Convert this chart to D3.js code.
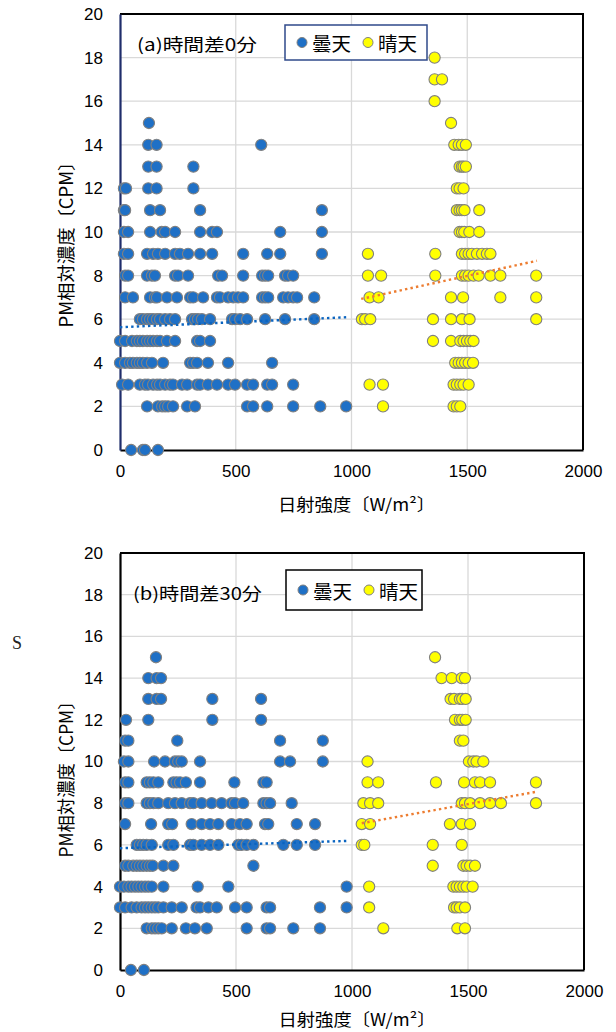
<!DOCTYPE html>
<html><head><meta charset="utf-8">
<script src="https://cdn.jsdelivr.net/npm/d3@7"></script>
<style>
html,body{margin:0;padding:0;background:#fff;}
svg{display:block;}
</style>
</head><body>
<svg id="chart" width="616" height="1032"></svg>
<script>
// ---------- DATA ----------
const X_TICKS = [0, 500, 1000, 1500, 2000];
const Y_TICKS = [0, 2, 4, 6, 8, 10, 12, 14, 16, 18, 20];
const SERIES_NAMES = ["曇天", "晴天"];
const TITLES = ["(a)時間差0分", "(b)時間差30分"];
const X_TITLE = "日射強度〔W/m²〕";
const Y_TITLE = "PM相対濃度〔CPM〕";

// each row: [PM value, [solar radiation values...]]
const aCloudy = [
  [15, [125]],
  [14, [122, 158, 610]],
  [13, [122, 158, 317]],
  [12, [17, 26, 122, 158, 317]],
  [11, [17, 22, 130, 173, 346, 872]],
  [10, [17, 35, 130, 180, 195, 238, 346, 398, 419, 692, 872]],
  [9,  [17, 35, 117, 143, 164, 195, 238, 259, 294, 346, 398, 532, 636, 692, 872]],
  [8,  [22, 35, 117, 138, 151, 238, 251, 294, 424, 441, 532, 614, 627, 640, 713, 726, 748]],
  [7,  [22, 56, 130, 151, 160, 203, 246, 303, 316, 359, 419, 432, 467, 489, 510, 532, 614, 627, 640, 705, 726, 748, 765, 839]],
  [6,  [86, 99, 117, 130, 143, 160, 173, 195, 216, 238, 311, 324, 337, 354, 389, 484, 497, 519, 549, 627, 713, 839]],
  [5,  [0, 22, 52, 73, 86, 99, 117, 130, 143, 160, 173, 203, 238, 333, 346, 389]],
  [4,  [0, 22, 43, 56, 73, 86, 99, 117, 138, 186, 303, 316, 333, 380, 467, 657]],
  [3,  [9, 35, 86, 108, 121, 143, 160, 173, 195, 216, 229, 268, 290, 333, 346, 380, 419, 467, 497, 549, 575, 636, 657, 748]],
  [2,  [117, 164, 182, 195, 208, 229, 290, 324, 549, 575, 636, 748, 865, 977]],
  [0,  [48, 99, 108, 164]]
];
const aSunny = [
  [18, [1359]],
  [17, [1359, 1391]],
  [16, [1359]],
  [15, [1430]],
  [14, [1444, 1463, 1477, 1494]],
  [13, [1467, 1477, 1484, 1494]],
  [12, [1455, 1467, 1484]],
  [11, [1455, 1467, 1477, 1488, 1552]],
  [10, [1467, 1477, 1487, 1509, 1552]],
  [9,  [1071, 1362, 1477, 1491, 1506, 1520, 1542, 1564, 1585, 1600]],
  [8,  [1071, 1128, 1362, 1477, 1491, 1506, 1527, 1549, 1600, 1643, 1798]],
  [7,  [1078, 1117, 1430, 1482, 1643, 1798]],
  [6,  [1045, 1059, 1081, 1352, 1430, 1477, 1510, 1798]],
  [5,  [1352, 1430, 1470, 1484, 1499, 1513, 1527]],
  [4,  [1448, 1463, 1477, 1491, 1506, 1525]],
  [3,  [1078, 1136, 1441, 1455, 1470, 1484, 1506]],
  [2,  [1136, 1441, 1455, 1470]]
];
const bCloudy = [
  [15, [155]],
  [14, [122, 158, 177]],
  [13, [122, 158, 177, 398, 608]],
  [12, [26, 122, 398, 608]],
  [11, [22, 36, 247, 690, 874]],
  [10, [17, 36, 147, 194, 237, 251, 266, 345, 690, 733, 874]],
  [9,  [22, 36, 115, 129, 144, 165, 230, 244, 259, 284, 345, 493, 618, 632]],
  [8,  [22, 36, 115, 129, 144, 165, 208, 237, 266, 302, 316, 352, 395, 438, 481, 496, 531, 618, 632, 647, 740]],
  [7,  [22, 134, 208, 225, 309, 352, 388, 424, 481, 517, 546, 625, 639, 762, 841]],
  [6,  [72, 86, 100, 115, 137, 208, 230, 302, 316, 352, 388, 424, 510, 524, 546, 575, 704, 762, 841]],
  [5,  [22, 36, 57, 72, 86, 100, 115, 129, 141, 187, 230, 575]],
  [4,  [0, 17, 36, 50, 65, 79, 93, 108, 122, 137, 187, 335, 467, 977]],
  [3,  [0, 22, 50, 72, 93, 108, 122, 137, 151, 165, 187, 223, 266, 330, 345, 381, 417, 496, 546, 632, 647, 862, 977]],
  [2,  [115, 137, 151, 165, 180, 223, 284, 323, 374, 546, 632, 647, 747, 862]],
  [0,  [47, 103]]
];
const bSunny = [
  [15, [1358]],
  [14, [1386, 1430, 1473, 1487]],
  [13, [1425, 1440, 1465, 1475, 1490]],
  [12, [1444, 1465, 1475, 1490]],
  [11, [1465, 1480]],
  [10, [1067, 1504, 1523, 1537, 1566]],
  [9,  [1067, 1113, 1362, 1483, 1530, 1552, 1595, 1793]],
  [8,  [1049, 1078, 1113, 1473, 1487, 1509, 1552, 1595, 1642, 1793]],
  [7,  [1042, 1078, 1422, 1473, 1509]],
  [6,  [1042, 1053, 1348, 1473]],
  [5,  [1348, 1480, 1494, 1509, 1530]],
  [4,  [1074, 1437, 1451, 1465, 1480, 1494, 1520]],
  [3,  [1074, 1440, 1451, 1465, 1487]],
  [2,  [1135, 1454, 1487]]
];
// linear trend lines (endpoints)
const aCloudyTrend = [[0, 5.63], [977, 6.09]];
const aSunnyTrend  = [[1042, 6.93], [1801, 8.68]];
const bCloudyTrend = [[0, 5.84], [977, 6.19]];
const bSunnyTrend  = [[1042, 7.04], [1796, 8.55]];

// ---------- DRAW ----------
const svg = d3.select("#chart");
const NUM_FONT = "'Liberation Sans', Arial, sans-serif";
const JP_FONT = "'Noto Sans CJK JP', sans-serif";

function flatten(rows) {
  const pts = [];
  rows.forEach(([y, xs]) => xs.forEach(x => pts.push({x, y})));
  return pts;
}

function drawChart(cfg) {
  const x = d3.scaleLinear().domain([0, 2000]).range([cfg.left, cfg.right]);
  const y = d3.scaleLinear().domain([0, 20]).range([cfg.bottom, cfg.top]);
  const g = svg.append("g");

  // gridlines
  g.append("g").selectAll("line.h").data(Y_TICKS.filter(d => d > 0)).join("line")
    .attr("x1", cfg.left).attr("x2", cfg.right)
    .attr("y1", d => y(d)).attr("y2", d => y(d))
    .attr("stroke", "#d9d9d9").attr("stroke-width", 1.3);
  g.append("g").selectAll("line.v").data(X_TICKS.filter(d => d > 0 && d < 2000)).join("line")
    .attr("y1", cfg.top).attr("y2", cfg.bottom)
    .attr("x1", d => x(d)).attr("x2", d => x(d))
    .attr("stroke", "#d9d9d9").attr("stroke-width", 1.3);

  // frame top / right
  g.append("path")
    .attr("d", `M${cfg.left},${cfg.top}H${cfg.right}V${cfg.bottom}`)
    .attr("fill", "none").attr("stroke", "#000").attr("stroke-width", 2);

  // axes
  const xAxis = g.append("g").attr("transform", `translate(0,${cfg.bottom})`)
    .call(d3.axisBottom(x).tickValues(X_TICKS).tickSize(0).tickPadding(cfg.xPad).tickFormat(d3.format("d")));
  xAxis.select(".domain").attr("stroke", "#000").attr("stroke-width", 2.2);
  xAxis.selectAll("text").attr("font-family", NUM_FONT).attr("font-size", 17).attr("fill", "#000");

  const yAxis = g.append("g").attr("transform", `translate(${cfg.left},0)`)
    .call(d3.axisLeft(y).tickValues(Y_TICKS).tickSize(0).tickPadding(17).tickFormat(d3.format("d")));
  yAxis.select(".domain").attr("stroke", cfg.yAxisColor).attr("stroke-width", 2.2);
  yAxis.selectAll("text").attr("font-family", NUM_FONT).attr("font-size", 17).attr("fill", "#000");

  // points
  const series = [
    {rows: cfg.cloudy, fill: "#1f70c6"},
    {rows: cfg.sunny, fill: "#ffff00"}
  ];
  series.forEach(s => {
    g.append("g").selectAll("circle").data(flatten(s.rows)).join("circle")
      .attr("cx", d => x(d.x)).attr("cy", d => y(d.y)).attr("r", 5.6)
      .attr("fill", s.fill).attr("stroke", "#808080").attr("stroke-width", 1.1);
  });

  // trend lines
  const line = d3.line().x(d => x(d[0])).y(d => y(d[1]));
  g.append("path").attr("d", line(cfg.cloudyTrend)).attr("fill", "none")
    .attr("stroke", "#0a64c0").attr("stroke-width", 2.4).attr("stroke-dasharray", "2.4 3.2");
  g.append("path").attr("d", line(cfg.sunnyTrend)).attr("fill", "none")
    .attr("stroke", "#ed7d31").attr("stroke-width", 2.4).attr("stroke-dasharray", "2.4 3.2");

  // title inside plot
  g.append("text").attr("x", cfg.titleX).attr("y", cfg.titleY)
    .attr("font-family", JP_FONT).attr("font-size", 17).attr("fill", "#000")
    .attr("dominant-baseline", "central")
    .attr("textLength", cfg.titleLen).attr("lengthAdjust", "spacingAndGlyphs")
    .text(cfg.title);

  // legend
  const L = cfg.legend;
  g.append("rect").attr("x", L.x).attr("y", L.y).attr("width", L.w).attr("height", L.h)
    .attr("fill", "#fff").attr("stroke", L.stroke).attr("stroke-width", 1.5);
  const ly = L.y + L.h / 2;
  [{fill: "#1f70c6", cx: L.x + 17, tx: L.x + 27}, {fill: "#ffff00", cx: L.x + 83, tx: L.x + 93}]
    .forEach((it, i) => {
      g.append("circle").attr("cx", it.cx).attr("cy", ly).attr("r", 5)
        .attr("fill", it.fill).attr("stroke", "#808080").attr("stroke-width", 1);
      g.append("text").attr("x", it.tx).attr("y", ly)
        .attr("font-family", JP_FONT).attr("font-size", 19).attr("fill", "#000")
        .attr("dominant-baseline", "central")
        .attr("textLength", 39).attr("lengthAdjust", "spacingAndGlyphs")
        .text(SERIES_NAMES[i]);
    });

  // axis titles
  g.append("text").attr("x", (cfg.left + cfg.right) / 2 + 5).attr("y", cfg.xTitleY)
    .attr("text-anchor", "middle").attr("dominant-baseline", "central")
    .attr("font-family", JP_FONT).attr("font-size", 17).attr("fill", "#000")
    .attr("textLength", 157).attr("lengthAdjust", "spacingAndGlyphs")
    .text(X_TITLE);
  g.append("text")
    .attr("transform", `translate(65,${cfg.yTitleY}) rotate(-90)`)
    .attr("text-anchor", "middle").attr("dominant-baseline", "central")
    .attr("font-family", JP_FONT).attr("font-size", 18).attr("fill", "#000")
    .attr("textLength", cfg.yTitleLen).attr("lengthAdjust", "spacingAndGlyphs")
    .text(Y_TITLE);
}

drawChart({
  left: 120, right: 583, top: 14, bottom: 450, xPad: 15,
  yAxisColor: "#1f2d6b",
  cloudy: aCloudy, sunny: aSunny, cloudyTrend: aCloudyTrend, sunnyTrend: aSunnyTrend,
  title: TITLES[0], titleX: 137, titleY: 43, titleLen: 120,
  legend: {x: 285, y: 25, w: 142, h: 35, stroke: "#2f4a8a"},
  xTitleY: 503, yTitleY: 240, yTitleLen: 175
});
drawChart({
  left: 120, right: 584, top: 553, bottom: 970, xPad: 15,
  yAxisColor: "#000",
  cloudy: bCloudy, sunny: bSunny, cloudyTrend: bCloudyTrend, sunnyTrend: bSunnyTrend,
  title: TITLES[1], titleX: 133, titleY: 592, titleLen: 129,
  legend: {x: 286, y: 570, w: 136, h: 40, stroke: "#000"},
  xTitleY: 1018, yTitleY: 775, yTitleLen: 165
});

// stray character in the source figure
svg.append("text").attr("x", 12).attr("y", 649)
  .attr("font-family", "'Liberation Serif', 'DejaVu Serif', serif").attr("font-size", 18).attr("fill", "#222")
  .text("S");
</script>
</body></html>
